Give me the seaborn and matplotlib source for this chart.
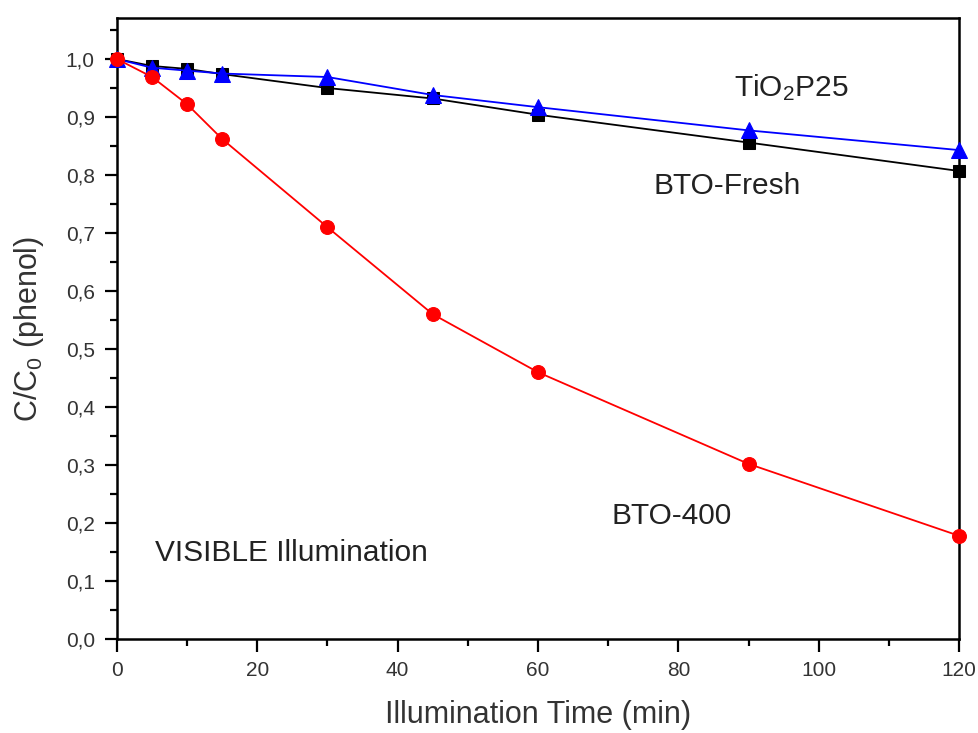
import matplotlib
matplotlib.use("Agg")
import matplotlib.pyplot as plt
import seaborn as sns
import pandas as pd
from matplotlib.ticker import MultipleLocator, FuncFormatter

time_min = [0, 5, 10, 15, 30, 45, 60, 90, 120]
bto_fresh = [1.0, 0.988, 0.983, 0.974, 0.950, 0.932, 0.904, 0.856, 0.807]
tio2_p25 = [1.0, 0.985, 0.980, 0.975, 0.969, 0.938, 0.917, 0.877, 0.843]
bto_400 = [1.0, 0.969, 0.922, 0.862, 0.710, 0.560, 0.460, 0.302, 0.178]

series_names = ["BTO-Fresh", "TiO2P25", "BTO-400"]

df = pd.concat([
    pd.DataFrame({"t": time_min, "c": bto_fresh, "s": series_names[0]}),
    pd.DataFrame({"t": time_min, "c": tio2_p25, "s": series_names[1]}),
    pd.DataFrame({"t": time_min, "c": bto_400, "s": series_names[2]}),
])

sns.set_theme(style="white")
plt.rcParams["font.family"] = ["Liberation Sans", "DejaVu Sans"]
plt.rcParams["mathtext.fontset"] = "custom"
plt.rcParams["mathtext.rm"] = "Liberation Sans"
plt.rcParams["mathtext.it"] = "Liberation Sans"

fig = plt.figure(figsize=(9.79, 7.33), dpi=100)
ax = fig.add_axes([0.1195, 0.1282, 0.8601, 0.8472])

styles = {
    "BTO-Fresh": dict(color="black", marker="s", ms=8),
    "TiO2P25": dict(color="#0000ff", marker="^", ms=11),
    "BTO-400": dict(color="#ff0000", marker="o", ms=10),
}
for name in series_names:
    st = styles[name]
    sub = df[df["s"] == name]
    sns.lineplot(data=sub, x="t", y="c", ax=ax, color=st["color"], lw=1.3,
                 marker=st["marker"], markersize=st["ms"], markeredgecolor=st["color"],
                 markerfacecolor=st["color"], clip_on=False, zorder=3, legend=False)

ax.set_xlim(0, 120)
ax.set_ylim(0, 1.0707)
ax.xaxis.set_major_locator(MultipleLocator(20))
ax.xaxis.set_minor_locator(MultipleLocator(10))
ax.yaxis.set_major_locator(MultipleLocator(0.1))
ax.yaxis.set_minor_locator(MultipleLocator(0.05))
ax.yaxis.set_major_formatter(FuncFormatter(lambda v, p: f"{v:.1f}".replace(".", ",")))
ax.xaxis.set_major_formatter(FuncFormatter(lambda v, p: f"{v:.0f}"))

for sp in ax.spines.values():
    sp.set_linewidth(1.8)
    sp.set_color("black")

ax.tick_params(axis="both", which="major", direction="out", length=9, width=1.6,
               labelsize=15, labelcolor="#333333", color="black", bottom=True, left=True,
               pad=7)
ax.tick_params(axis="both", which="minor", direction="out", length=5, width=1.6,
               color="black", bottom=True, left=True)

ax.set_xlabel("Illumination Time (min)", fontsize=22, color="#333333", labelpad=14)
ax.set_ylabel("C/C$_0$ (phenol)", fontsize=22, color="#333333", labelpad=14)

ax.text(88, 0.95, "TiO$_2$P25", fontsize=21.5, color="#222222", va="center", ha="left")
ax.text(76.5, 0.781, "BTO-Fresh", fontsize=21.5, color="#222222", va="center", ha="left")
ax.text(70.5, 0.212, "BTO-400", fontsize=21.5, color="#222222", va="center", ha="left")
ax.text(5.4, 0.148, "VISIBLE Illumination", fontsize=21.5, color="#222222", va="center", ha="left")

fig.savefig("out.png", dpi=100)
